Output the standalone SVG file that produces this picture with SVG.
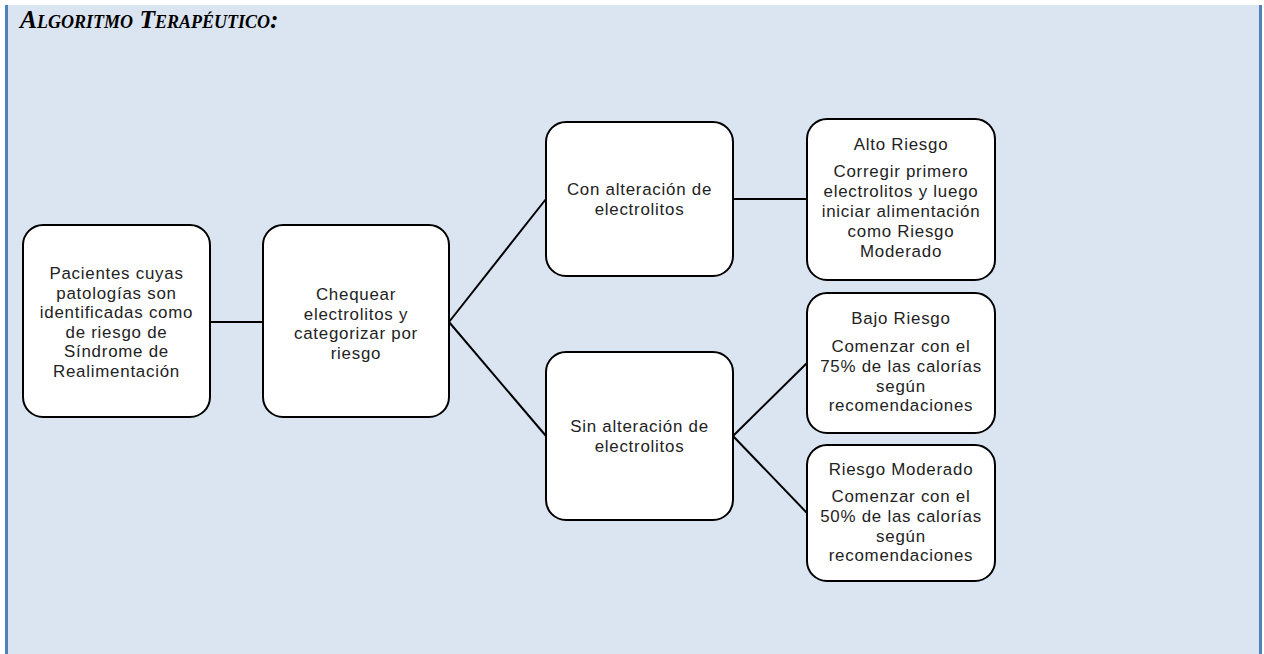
<svg xmlns="http://www.w3.org/2000/svg" width="1264" height="654" viewBox="0 0 1264 654">
<style>
.box{fill:#ffffff;stroke:#000000;stroke-width:2}
.t{font-family:"Liberation Sans",Arial,sans-serif;font-size:16.9px;letter-spacing:0.75px;fill:#222222;text-anchor:middle}
.c{stroke:#000000;stroke-width:2;fill:none}
</style>
<rect x="0" y="0" width="1264" height="654" fill="#ffffff"/>
<rect x="5" y="5" width="1257" height="649" fill="#dbe5f1"/>
<rect x="5" y="5" width="3" height="649" fill="#4f81bd"/>
<rect x="1259" y="5" width="3" height="649" fill="#4f81bd"/>
<text x="20" y="28" font-family="'Liberation Serif',serif" font-size="25.5" font-weight="bold" font-style="italic" font-variant="small-caps" fill="#000">Algoritmo Terapéutico:</text>
<g id="connectors">
<line class="c" x1="210" y1="322" x2="263" y2="322"/>
<line class="c" x1="449" y1="322" x2="546" y2="199"/>
<line class="c" x1="449" y1="322" x2="546" y2="436"/>
<line class="c" x1="733" y1="199" x2="807" y2="199"/>
<line class="c" x1="733" y1="436" x2="807" y2="363"/>
<line class="c" x1="733" y1="436" x2="807" y2="513"/>
</g>
<g id="n1">
<rect class="box" x="23" y="225" width="187" height="192" rx="20"/>
<text class="t" y="279"><tspan x="116.5">Pacientes cuyas</tspan><tspan x="116.5" dy="19.6">patologías son</tspan><tspan x="116.5" dy="19.6">identificadas como</tspan><tspan x="116.5" dy="19.6">de riesgo de</tspan><tspan x="116.5" dy="19.6">Síndrome de</tspan><tspan x="116.5" dy="19.6">Realimentación</tspan></text>
</g>
<g id="n2">
<rect class="box" x="263" y="225" width="186" height="192" rx="20"/>
<text class="t" y="300"><tspan x="356">Chequear</tspan><tspan x="356" dy="19.6">electrolitos y</tspan><tspan x="356" dy="19.6">categorizar por</tspan><tspan x="356" dy="19.6">riesgo</tspan></text>
</g>
<g id="n3">
<rect class="box" x="546" y="122" width="187" height="154" rx="20"/>
<text class="t" y="195"><tspan x="639.5">Con alteración de</tspan><tspan x="639.5" dy="20">electrolitos</tspan></text>
</g>
<g id="n4">
<rect class="box" x="807" y="119" width="188" height="161" rx="20"/>
<text class="t" y="150"><tspan x="901">Alto Riesgo</tspan><tspan x="901" dy="27">Corregir primero</tspan><tspan x="901" dy="20">electrolitos y luego</tspan><tspan x="901" dy="20">iniciar alimentación</tspan><tspan x="901" dy="19.6">como Riesgo</tspan><tspan x="901" dy="20">Moderado</tspan></text>
</g>
<g id="n5">
<rect class="box" x="546" y="352" width="187" height="168" rx="20"/>
<text class="t" y="432"><tspan x="639.5">Sin alteración de</tspan><tspan x="639.5" dy="20">electrolitos</tspan></text>
</g>
<g id="n6">
<rect class="box" x="807" y="293" width="188" height="140" rx="20"/>
<text class="t" y="324"><tspan x="901">Bajo Riesgo</tspan><tspan x="901" dy="28">Comenzar con el</tspan><tspan x="901" dy="20">75% de las calorías</tspan><tspan x="901" dy="19.6">según</tspan><tspan x="901" dy="19.6">recomendaciones</tspan></text>
</g>
<g id="n7">
<rect class="box" x="807" y="445" width="188" height="136" rx="20"/>
<text class="t" y="475"><tspan x="901">Riesgo Moderado</tspan><tspan x="901" dy="27">Comenzar con el</tspan><tspan x="901" dy="20">50% de las calorías</tspan><tspan x="901" dy="19.6">según</tspan><tspan x="901" dy="19.6">recomendaciones</tspan></text>
</g>
</svg>
